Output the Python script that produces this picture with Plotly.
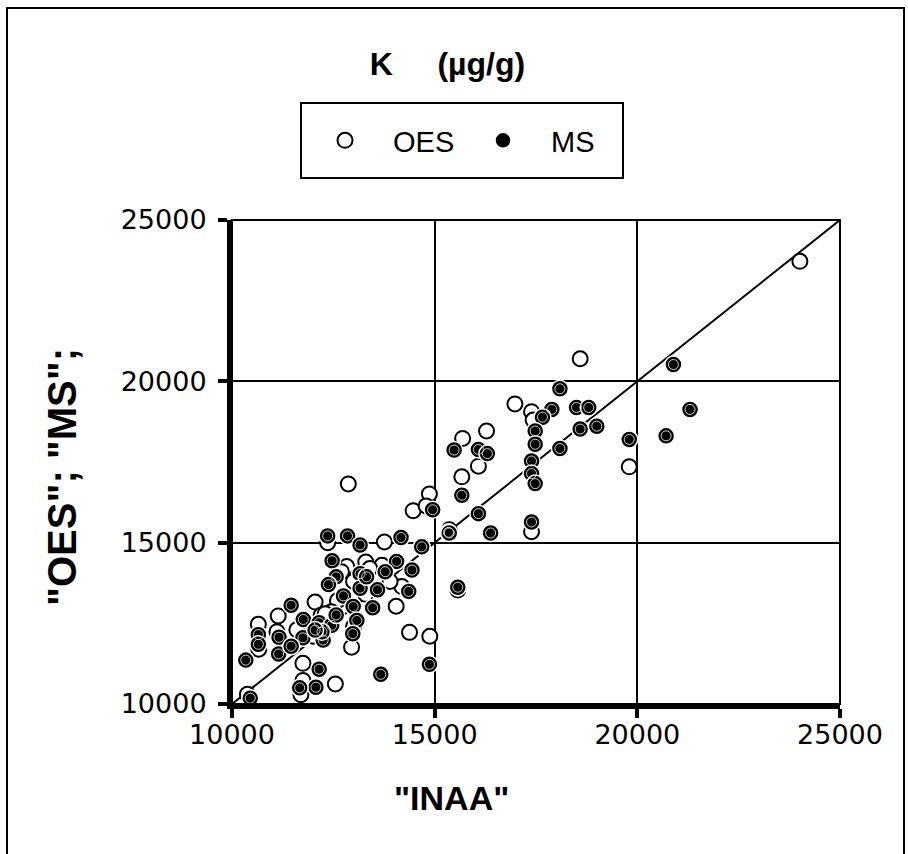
import plotly.graph_objects as go

# ---- data ----
oes_x = [12870, 14870, 14470, 14790, 12360, 13760, 14190, 14050, 12050, 11140,
         10650, 10660, 11110, 12950, 14380, 14880, 11750, 12550, 11700, 11750,
         10380, 13670, 12830, 13300, 13700, 12600, 13000, 12200, 12450, 13400,
         13000, 12700, 13900, 12000, 11600, 13300, 12300, 16980, 17390, 17430,
         16280, 15690, 16080, 15670, 15360, 17390, 15570, 19800, 24010, 18590]
oes_y = [16820, 16510, 15990, 16140, 15000, 15020, 13640, 13030, 13160, 12730,
         12470, 11700, 12240, 11760, 12220, 12100, 11260, 10620, 10290, 10730,
         10300, 9850, 14260, 14400, 14300, 13200, 12400, 12750, 12860, 14200,
         13800, 14100, 13800, 12100, 12300, 13400, 12800, 19300, 19060, 18800,
         18460, 18230, 17370, 17040, 15400, 15340, 13530, 17350, 23720, 20700]

ms_x = [14950, 12360, 12850, 13160, 14170, 14680, 15340, 12470, 14060, 14440,
        13780, 12570, 12380, 13160, 13160, 13590, 14360, 12750, 12990, 13470,
        11460, 11760, 12150, 12460, 13080, 10650, 10650, 11160, 11750, 12250,
        12980, 11150, 11460, 10340, 14870, 13670, 12150, 12070, 11670, 10450,
        12220, 12050, 13320, 12570, 17890, 17660, 17480, 17480, 17390, 17390,
        17480, 18090, 18090, 15480, 16080, 16300, 15670, 16080, 15360, 16380,
        17390, 15570, 19800, 18500, 18800, 18590, 19000, 20890, 21300, 20710]
ms_y = [16020, 15210, 15210, 14930, 15160, 14870, 15320, 14440, 14420, 14150,
        14100, 13940, 13700, 14040, 13590, 13540, 13490, 13350, 13020, 12980,
        13060, 12620, 12520, 12440, 12590, 12150, 11850, 12070, 12050, 11980,
        12180, 11550, 11790, 11360, 11230, 10920, 11080, 10520, 10500, 10180,
        12240, 12290, 13940, 12760, 19130, 18890, 18460, 18050, 17530, 17140,
        16830, 19770, 17920, 17870, 17890, 17760, 16470, 15900, 15300, 15300,
        15640, 13620, 18200, 19190, 19190, 18520, 18610, 20520, 19130, 18310]

line_x = [10000, 25000]
line_y = [10000, 25000]

tick_vals = [10000, 15000, 20000, 25000]
tick_text = ["10000", "15000", "20000", "25000"]

title_text = "K\u00a0\u00a0\u00a0\u00a0\u00a0(µg/g)"
x_title = "\"INAA\""
y_title = "\"OES\"; \"MS\";"

FONT = "Liberation Sans, Arial, sans-serif"
TICKFONT = "DejaVu Sans, Liberation Sans, sans-serif"

# plot area in pixels (for placing decorations in paper coordinates)
L, R, T, B = 232, 840, 220, 704


def px_x(px):
    return (px - L) / (R - L)


def px_y(py):
    return (B - py) / (B - T)


fig = go.Figure()

fig.add_trace(go.Scatter(
    x=line_x, y=line_y, mode="lines",
    line=dict(color="black", width=2), showlegend=False, hoverinfo="skip"))

fig.add_trace(go.Scatter(
    x=oes_x, y=oes_y, mode="markers", name="OES", cliponaxis=False,
    marker=dict(symbol="circle", size=15, color="white",
                line=dict(color="black", width=2))))

fig.add_trace(go.Scatter(
    x=ms_x, y=ms_y, mode="markers", name="MS",
    marker=dict(symbol="circle", size=17, color="black",
                line=dict(color="white", width=1.5))))

fig.add_trace(go.Scatter(
    x=ms_x, y=ms_y, mode="markers", showlegend=False, hoverinfo="skip",
    marker=dict(symbol="circle-open", size=10, color="#d0d0d0",
                line=dict(width=1))))

axis_common = dict(
    range=[10000, 25000], tickmode="array", tickvals=tick_vals, ticktext=tick_text,
    showgrid=True, gridcolor="black", gridwidth=2, zeroline=False,
    showline=True, linecolor="black", linewidth=5,
    ticks="outside", ticklen=9, tickwidth=4, tickcolor="black",
    tickfont=dict(family=TICKFONT, size=27, color="black"),
)

fig.update_xaxes(**axis_common, ticklabelstandoff=-6)
fig.update_yaxes(**axis_common, ticklabelstandoff=6)

fig.update_layout(
    width=908, height=854,
    margin=dict(l=L, r=908 - R, t=T, b=854 - B),
    paper_bgcolor="white", plot_bgcolor="white",
    title=dict(text=title_text, x=447.5 / 908, xanchor="center",
               y=1 - 64 / 854, yanchor="middle",
               font=dict(family=FONT, size=32, color="black", weight="bold")),
    legend=dict(orientation="h", x=px_x(455), xanchor="center",
                y=px_y(140.5), yanchor="middle",
                borderwidth=0, bgcolor="rgba(0,0,0,0)",
                font=dict(family=FONT, size=29, color="black"),
                itemwidth=86, entrywidth=57),
    showlegend=True,
    shapes=[
        dict(type="rect", xref="paper", yref="paper", x0=0, x1=1, y0=0, y1=1,
             line=dict(color="black", width=2)),
        dict(type="rect", xref="paper", yref="paper",
             x0=px_x(7), x1=px_x(904), y0=px_y(880), y1=px_y(8),
             line=dict(color="black", width=2)),
        dict(type="rect", xref="paper", yref="paper",
             x0=px_x(301), x1=px_x(623), y0=px_y(178), y1=px_y(103),
             line=dict(color="black", width=2)),
    ],
    annotations=[
        dict(text=x_title, xref="paper", yref="paper",
             x=px_x(451), y=px_y(798),
             xanchor="center", yanchor="middle", showarrow=False,
             font=dict(family=FONT, size=34, color="black", weight="bold")),
        dict(text=y_title, xref="paper", yref="paper",
             x=px_x(62), y=px_y(477), textangle=-90,
             xanchor="center", yanchor="middle", showarrow=False,
             font=dict(family=FONT, size=40, color="black", weight="bold")),
    ],
)

fig.write_html("out.html")
